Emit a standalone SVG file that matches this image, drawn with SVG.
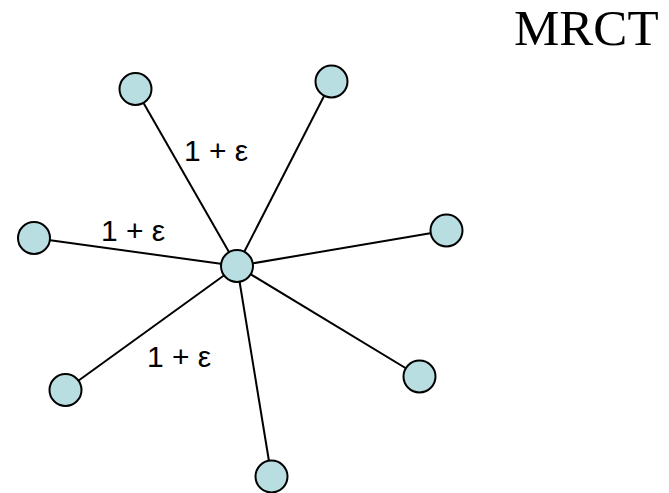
<svg xmlns="http://www.w3.org/2000/svg" width="669" height="493" viewBox="0 0 669 493">
<style>
.edge{stroke:#000;stroke-width:2;fill:none}
.node{fill:#b9dee2;stroke:#000;stroke-width:2}
</style>
<rect width="669" height="493" fill="#fff"/>
<g id="connectors">
<line class="edge" x1="237" y1="266" x2="135.5" y2="89"/>
<line class="edge" x1="237" y1="266" x2="331.5" y2="81.5"/>
<line class="edge" x1="237" y1="266" x2="34" y2="238"/>
<line class="edge" x1="237" y1="266" x2="446.5" y2="230.5"/>
<line class="edge" x1="237" y1="266" x2="65.5" y2="390"/>
<line class="edge" x1="237" y1="266" x2="419.5" y2="376.5"/>
<line class="edge" x1="237" y1="266" x2="271.5" y2="476.5"/>
</g>
<g id="n-center"><circle class="node" cx="237" cy="266" r="16"/></g>
<g id="n-topleft"><circle class="node" cx="135.5" cy="89" r="16"/></g>
<g id="n-topright"><circle class="node" cx="331.5" cy="81.5" r="16"/></g>
<g id="n-left"><circle class="node" cx="34" cy="238" r="16"/></g>
<g id="n-right"><circle class="node" cx="446.5" cy="230.5" r="16"/></g>
<g id="n-bottomleft"><circle class="node" cx="65.5" cy="390" r="16"/></g>
<g id="n-bottomright"><circle class="node" cx="419.5" cy="376.5" r="16"/></g>
<g id="n-bottom"><circle class="node" cx="271.5" cy="476.5" r="16"/></g>
<g id="labels" font-family="'Liberation Sans', Arial, sans-serif" font-size="30" fill="#000">
<text x="184" y="161">1 + ε</text>
<text x="101" y="241">1 + ε</text>
<text x="147" y="367">1 + ε</text>
<text x="514" y="45" font-family="'Liberation Serif', 'Times New Roman', serif" font-size="51">MRCT</text>
</g>
</svg>
